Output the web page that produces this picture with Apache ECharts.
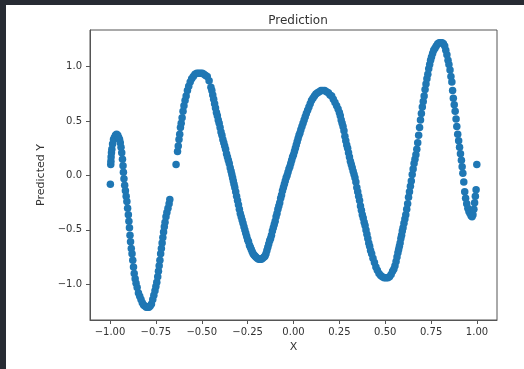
<!doctype html>
<html>
<head>
<meta charset="UTF-8">
<title>Prediction</title>
<script src="https://cdn.jsdelivr.net/npm/echarts@6/dist/echarts.min.js"></script>
<style>
  html, body { margin: 0; padding: 0; background: #ffffff; overflow: hidden; }
  #main { width: 524px; height: 369px; }
</style>
</head>
<body>
<div id="main"></div>
<script>
// values, one small array pair per stretch of the curve
var xTicks = [-1, -0.75, -0.5, -0.25, 0, 0.25, 0.5, 0.75, 1];
var yTicks = [-1, -0.5, 0, 0.5, 1];

// left hump and first trough
var xA = [-0.998, -0.996, -0.995, -0.994, -0.992, -0.990, -0.986, -0.981, -0.976, -0.970,
  -0.964, -0.958, -0.953, -0.948, -0.944, -0.940, -0.936, -0.932, -0.929, -0.927,
  -0.924, -0.920, -0.916, -0.912, -0.908, -0.904, -0.900, -0.897, -0.894, -0.891,
  -0.888, -0.884, -0.880, -0.876, -0.872, -0.868, -0.863, -0.858, -0.852, -0.845,
  -0.838, -0.831, -0.824, -0.817, -0.810, -0.802, -0.795, -0.788, -0.781, -0.774,
  -0.767, -0.761, -0.755, -0.750, -0.745, -0.740, -0.736, -0.732, -0.728, -0.724,
  -0.720, -0.716, -0.712, -0.708, -0.704, -0.700, -0.695, -0.690, -0.684, -0.678, -0.674];
var yA = [-0.08, 0.10, 0.13, 0.17, 0.21, 0.24, 0.29, 0.33, 0.35, 0.37,
  0.38, 0.37, 0.35, 0.33, 0.30, 0.26, 0.21, 0.15, 0.09, 0.03,
  -0.03, -0.09, -0.14, -0.19, -0.24, -0.30, -0.36, -0.42, -0.48, -0.55,
  -0.61, -0.67, -0.72, -0.78, -0.84, -0.90, -0.95, -0.99, -1.03, -1.08,
  -1.11, -1.14, -1.17, -1.19, -1.20, -1.21, -1.21, -1.21, -1.20, -1.18,
  -1.14, -1.10, -1.06, -1.02, -0.98, -0.93, -0.88, -0.83, -0.78, -0.72,
  -0.67, -0.62, -0.57, -0.52, -0.47, -0.43, -0.38, -0.34, -0.30, -0.26, -0.22];

// peak near -0.5, trough near -0.17
var xB = [-0.640, -0.632, -0.628, -0.624, -0.620, -0.616, -0.612, -0.607, -0.602, -0.597,
  -0.591, -0.585, -0.578, -0.571, -0.563, -0.555, -0.546, -0.537, -0.527, -0.517,
  -0.507, -0.497, -0.488, -0.479, -0.470, -0.460, -0.450, -0.445, -0.440, -0.435,
  -0.430, -0.425, -0.420, -0.415, -0.410, -0.405, -0.400, -0.395, -0.390, -0.385,
  -0.380, -0.375, -0.370, -0.365, -0.360, -0.355, -0.350, -0.345, -0.340, -0.336,
  -0.332, -0.328, -0.324, -0.320, -0.315, -0.310, -0.305, -0.300, -0.295, -0.290,
  -0.285, -0.280, -0.275, -0.270, -0.265, -0.260, -0.255, -0.250, -0.245, -0.240,
  -0.235, -0.230, -0.225, -0.220, -0.215, -0.210, -0.205, -0.198, -0.190, -0.182,
  -0.175, -0.168];
var yB = [0.10, 0.22, 0.27, 0.33, 0.38, 0.44, 0.48, 0.53, 0.59, 0.64,
  0.69, 0.73, 0.78, 0.82, 0.86, 0.89, 0.91, 0.93, 0.94, 0.94,
  0.94, 0.94, 0.93, 0.92, 0.91, 0.87, 0.81, 0.78, 0.74, 0.70,
  0.66, 0.62, 0.58, 0.55, 0.51, 0.48, 0.44, 0.40, 0.37, 0.33,
  0.30, 0.27, 0.24, 0.20, 0.17, 0.14, 0.11, 0.07, 0.04, 0.01,
  -0.02, -0.05, -0.08, -0.11, -0.15, -0.19, -0.23, -0.27, -0.31, -0.35,
  -0.38, -0.41, -0.44, -0.47, -0.50, -0.53, -0.56, -0.59, -0.61, -0.64,
  -0.66, -0.68, -0.70, -0.72, -0.73, -0.74, -0.75, -0.76, -0.77, -0.77,
  -0.77, -0.76];

// rise to the 0.17 peak, fall to the 0.51 trough
var xC = [-0.160, -0.155, -0.150, -0.145, -0.140, -0.135, -0.130, -0.125, -0.120, -0.115,
  -0.110, -0.105, -0.100, -0.095, -0.090, -0.085, -0.080, -0.075, -0.070, -0.065,
  -0.060, -0.055, -0.050, -0.045, -0.040, -0.035, -0.030, -0.025, -0.020, -0.015,
  -0.010, -0.005, 0.000, 0.005, 0.010, 0.015, 0.020, 0.025, 0.030, 0.035,
  0.040, 0.046, 0.052, 0.058, 0.064, 0.070, 0.077, 0.084, 0.091, 0.098,
  0.106, 0.114, 0.122, 0.131, 0.140, 0.150, 0.160, 0.170, 0.180, 0.190,
  0.199, 0.208, 0.217, 0.226, 0.235, 0.243, 0.250, 0.255, 0.260, 0.265,
  0.270, 0.275, 0.280, 0.285, 0.290, 0.295, 0.300, 0.305, 0.310, 0.315,
  0.320, 0.325, 0.330, 0.335, 0.340, 0.345, 0.350, 0.355, 0.360, 0.365,
  0.370, 0.375, 0.380, 0.385, 0.390, 0.395, 0.400, 0.405, 0.410, 0.415,
  0.420, 0.426, 0.433, 0.441, 0.449, 0.457, 0.466, 0.475, 0.484, 0.494,
  0.504, 0.514, 0.523, 0.532, 0.540, 0.547, 0.553, 0.559, 0.564, 0.569];
var yC = [-0.75, -0.74, -0.72, -0.69, -0.66, -0.63, -0.60, -0.58, -0.55, -0.51,
  -0.48, -0.45, -0.42, -0.38, -0.35, -0.31, -0.28, -0.25, -0.21, -0.18,
  -0.14, -0.11, -0.08, -0.05, -0.02, 0.00, 0.03, 0.06, 0.08, 0.11,
  0.14, 0.17, 0.19, 0.22, 0.25, 0.28, 0.31, 0.34, 0.37, 0.39,
  0.42, 0.45, 0.48, 0.51, 0.54, 0.57, 0.60, 0.63, 0.66, 0.69,
  0.71, 0.73, 0.75, 0.76, 0.77, 0.78, 0.78, 0.78, 0.77, 0.76,
  0.74, 0.73, 0.70, 0.67, 0.64, 0.61, 0.58, 0.55, 0.51, 0.48,
  0.45, 0.41, 0.36, 0.32, 0.28, 0.25, 0.21, 0.17, 0.13, 0.10,
  0.07, 0.04, 0.01, -0.02, -0.06, -0.11, -0.15, -0.19, -0.23, -0.28,
  -0.32, -0.36, -0.39, -0.43, -0.46, -0.50, -0.54, -0.58, -0.62, -0.65,
  -0.69, -0.72, -0.76, -0.80, -0.84, -0.87, -0.90, -0.92, -0.93, -0.94,
  -0.94, -0.94, -0.93, -0.91, -0.88, -0.86, -0.83, -0.79, -0.75, -0.71];

// rise to the 1.22 peak and the wiggle at the right end
var xD = [0.573, 0.577, 0.581, 0.585, 0.589, 0.593, 0.597, 0.602, 0.607, 0.612,
  0.617, 0.622, 0.627, 0.632, 0.637, 0.642, 0.647, 0.652, 0.657, 0.662,
  0.667, 0.672, 0.677, 0.682, 0.687, 0.692, 0.697, 0.702, 0.707, 0.712,
  0.717, 0.722, 0.727, 0.732, 0.737, 0.742, 0.747, 0.752, 0.758, 0.764,
  0.771, 0.778, 0.786, 0.794, 0.802, 0.810, 0.817, 0.824, 0.830, 0.836,
  0.842, 0.847, 0.853, 0.858, 0.863, 0.867, 0.871, 0.876, 0.881, 0.886,
  0.890, 0.895, 0.900, 0.905, 0.910, 0.915, 0.919, 0.923, 0.928, 0.933,
  0.938, 0.944, 0.950, 0.956, 0.962, 0.968, 0.973, 0.978, 0.983, 0.987,
  0.991, 0.995, 0.999];
var yD = [-0.68, -0.65, -0.62, -0.58, -0.55, -0.51, -0.48, -0.44, -0.40, -0.36,
  -0.31, -0.26, -0.20, -0.15, -0.10, -0.05, 0.01, 0.06, 0.11, 0.15,
  0.19, 0.24, 0.30, 0.37, 0.44, 0.51, 0.57, 0.63, 0.68, 0.73,
  0.79, 0.84, 0.89, 0.93, 0.98, 1.02, 1.06, 1.09, 1.12, 1.15,
  1.17, 1.19, 1.21, 1.22, 1.22, 1.22, 1.21, 1.19, 1.15, 1.11,
  1.06, 1.02, 0.97, 0.91, 0.86, 0.78, 0.71, 0.65, 0.59, 0.52,
  0.45, 0.38, 0.32, 0.26, 0.20, 0.14, 0.08, 0.02, -0.06, -0.15,
  -0.21, -0.26, -0.30, -0.33, -0.35, -0.37, -0.38, -0.36, -0.31, -0.25,
  -0.19, -0.13, 0.10];

var points = [];
[[xA, yA], [xB, yB], [xC, yC], [xD, yD]].forEach(function (seg) {
    for (var i = 0; i < seg[0].length; i++) {
        points.push([seg[0][i], seg[1][i]]);
    }
});

var textColor = '#333';
var frameColor = '#555';
var darkEdge = '#272b33';
var font = 'DejaVu Sans';

function fmt(v, digits) {
    var s = Math.abs(v).toFixed(digits);
    return (v < 0 ? '\u2212' : '') + s;
}

var myChart = echarts.init(document.getElementById('main'));

var option = {
    animation: false,
    backgroundColor: '#ffffff',
    // dark notebook edge at the top and left
    graphic: [
        { type: 'rect', shape: { x: 0, y: 0, width: 524, height: 5 }, style: { fill: darkEdge }, z: 100 },
        { type: 'rect', shape: { x: 0, y: 0, width: 6, height: 369 }, style: { fill: darkEdge }, z: 100 }
    ],
    title: {
        text: 'Prediction',
        left: 293,
        top: 10,
        textAlign: 'center',
        textStyle: { fontFamily: font, fontSize: 12, fontWeight: 'normal', color: textColor }
    },
    grid: {
        left: 90, top: 30, right: 27, bottom: 49,
        show: true,
        borderColor: frameColor,
        borderWidth: 1,
        backgroundColor: '#fff'
    },
    xAxis: {
        type: 'value',
        min: -1.109,
        max: 1.109,
        name: 'X',
        nameLocation: 'middle',
        nameGap: 21,
        nameTextStyle: { fontFamily: font, fontSize: 11, color: textColor },
        splitLine: { show: false },
        axisLine: { show: true, onZero: false, lineStyle: { color: frameColor } },
        axisTick: { show: true, length: 4, customValues: xTicks, lineStyle: { color: frameColor } },
        axisLabel: {
            customValues: xTicks,
            margin: 7,
            fontFamily: font, fontSize: 10, color: textColor,
            formatter: function (v) { return fmt(v, 2); }
        }
    },
    yAxis: {
        type: 'value',
        min: -1.328,
        max: 1.337,
        name: 'Predicted Y',
        nameLocation: 'middle',
        nameGap: 39,
        nameTextStyle: { fontFamily: font, fontSize: 11, color: textColor },
        splitLine: { show: false },
        axisLine: { show: true, onZero: false, lineStyle: { color: frameColor } },
        axisTick: { show: true, length: 4, customValues: yTicks, lineStyle: { color: frameColor } },
        axisLabel: {
            customValues: yTicks,
            margin: 8,
            fontFamily: font, fontSize: 10, color: textColor,
            formatter: function (v) { return fmt(v, 1); }
        }
    },
    series: [{
        type: 'scatter',
        data: points,
        symbolSize: 7.5,
        itemStyle: { color: '#1f77b4', opacity: 1 }
    }]
};

myChart.setOption(option);
</script>
</body>
</html>
